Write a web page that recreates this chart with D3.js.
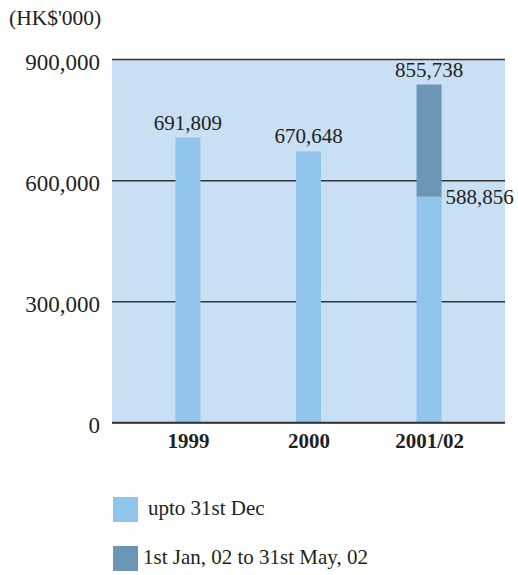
<!DOCTYPE html>
<html>
<head>
<meta charset="utf-8">
<script src="https://cdn.jsdelivr.net/npm/d3@7"></script>
<style>
  body { margin: 0; background: #fff; }
  svg text { font-family: "Liberation Serif", "Times New Roman", serif !important; fill: #231f20; }
</style>
</head>
<body>
<div id="app"></div>
<script>
const categories = ["1999", "2000", "2001/02"];
// bar heights as drawn in the picture
const uptoDec = [705400, 671400, 559100];
const janToMay = [0, 0, 277700];
const valueLabels = ["691,809", "670,648", "855,738"];
const splitLabels = ["", "", "588,856"];
const yTicks = [0, 300000, 600000, 900000];
const seriesNames = ["upto 31st Dec", "1st Jan, 02 to 31st May, 02"];
const seriesKeys = ["upto", "janMay"];

const width = 518;
const height = 575;
const plotLeft = 112, plotRight = 505, plotTop = 59, plotBottom = 422.5;
const barWidth = 25;
const serif = '"Liberation Serif", "Times New Roman", serif';
const colors = { upto: "#90c4eb", janMay: "#6b96b5" };

const svg = d3.select("#app").append("svg")
  .attr("width", width)
  .attr("height", height)
  .attr("font-family", serif);

const x = d3.scalePoint()
  .domain(categories)
  .range([plotLeft, plotRight])
  .padding(0.63);

const y = d3.scaleLinear()
  .domain([0, 900000])
  .range([plotBottom, plotTop]);

// plot background
svg.append("rect")
  .attr("x", plotLeft)
  .attr("y", y(900000))
  .attr("width", plotRight - plotLeft)
  .attr("height", y(0) - y(900000))
  .attr("fill", "#c9dff4");

// unit label
svg.append("text")
  .attr("x", 9)
  .attr("y", 25)
  .attr("font-size", 21.5)
  .text("(HK$'000)");

// y axis with gridlines
const yAxis = svg.append("g")
  .attr("transform", `translate(${plotLeft},0)`)
  .call(d3.axisLeft(y)
    .tickValues(yTicks)
    .tickSize(-(plotRight - plotLeft))
    .tickPadding(12)
    .tickFormat(d3.format(",")));
yAxis.attr("font-family", serif);
yAxis.select(".domain").remove();
yAxis.selectAll("line").attr("stroke", "#333").attr("stroke-width", 1.5);
yAxis.selectAll("text")
  .attr("font-size", 23)
  .attr("dy", "0.45em")
  .attr("fill", "#231f20");

// stacked bars
const rows = categories.map((c, i) => ({ cat: c, upto: uptoDec[i], janMay: janToMay[i] }));
const stacked = d3.stack().keys(seriesKeys)(rows);

svg.append("g")
  .selectAll("g")
  .data(stacked)
  .join("g")
  .attr("fill", (d) => colors[d.key])
  .selectAll("rect")
  .data((d) => d.filter((p) => p[1] > p[0]))
  .join("rect")
  .attr("x", (d) => x(d.data.cat) - barWidth / 2)
  .attr("y", (d) => y(d[1]))
  .attr("width", barWidth)
  .attr("height", (d) => y(d[0]) - y(d[1]));

// zero line on top
svg.append("line")
  .attr("x1", plotLeft)
  .attr("x2", plotRight)
  .attr("y1", y(0))
  .attr("y2", y(0))
  .attr("stroke", "#333")
  .attr("stroke-width", 1.5);

// value labels above bars
svg.append("g")
  .selectAll("text")
  .data(rows)
  .join("text")
  .attr("x", (d) => x(d.cat))
  .attr("y", (d) => y(d.upto + d.janMay) - 8)
  .attr("text-anchor", "middle")
  .attr("font-size", 21)
  .text((d, i) => valueLabels[i]);

// split label beside stacked bar
svg.append("g")
  .selectAll("text")
  .data(rows.filter((d, i) => splitLabels[i]))
  .join("text")
  .attr("x", (d) => x(d.cat) + barWidth / 2 + 4)
  .attr("y", (d) => y(d.upto) + 7)
  .attr("font-size", 21)
  .text((d) => splitLabels[categories.indexOf(d.cat)]);

// x axis labels
const xAxis = svg.append("g")
  .attr("transform", `translate(0,${plotBottom})`)
  .call(d3.axisBottom(x).tickSize(0).tickPadding(11));
xAxis.attr("font-family", serif);
xAxis.select(".domain").remove();
xAxis.selectAll("text")
  .attr("font-size", 21)
  .attr("font-weight", "bold")
  .attr("fill", "#231f20");

// legend
const legend = svg.append("g")
  .selectAll("g")
  .data(seriesKeys)
  .join("g")
  .attr("transform", (d, i) => `translate(113,${497 + i * 49})`);
legend.append("rect")
  .attr("width", 25)
  .attr("height", 25)
  .attr("fill", (d) => colors[d]);
legend.append("text")
  .attr("x", (d, i) => (i === 0 ? 35 : 30))
  .attr("y", 18)
  .attr("font-size", 21)
  .text((d, i) => seriesNames[i]);
</script>
</body>
</html>
